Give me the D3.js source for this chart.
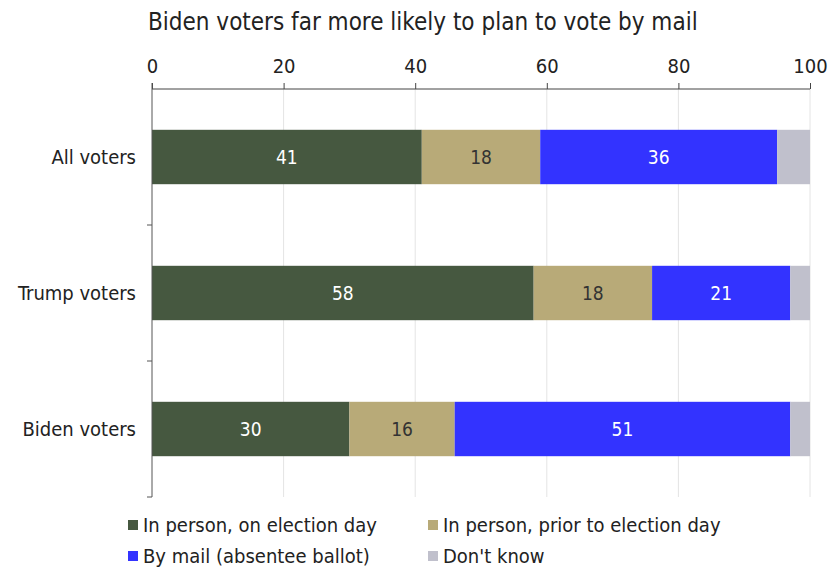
<!DOCTYPE html>
<html>
<head>
<meta charset="utf-8">
<script src="https://cdn.jsdelivr.net/npm/d3@7"></script>
<style>
  body { margin: 0; background: #fff; }
  svg text { font-family: "DejaVu Sans Condensed", "DejaVu Sans", sans-serif; }
</style>
</head>
<body>
<div id="chart"></div>
<script>
// data
const groups = ['All voters', 'Trump voters', 'Biden voters'];
const seriesNames = ['In person, on election day', 'In person, prior to election day', 'By mail (absentee ballot)', "Don't know"];
const electionDay = [41, 58, 30];
const priorDay = [18, 18, 16];
const byMail = [36, 21, 51];
const dontKnow = [5, 3, 3];
const xTicks = [0, 20, 40, 60, 80, 100];

const colors = ['#465840', '#b8aa78', '#3333ff', '#c0c0cc'];
const labelColors = ['#ffffff', '#333333', '#ffffff', null];

const width = 828, height = 569;
const margin = { top: 89, right: 18, bottom: 72, left: 152 };
const innerW = width - margin.left - margin.right;
const innerH = height - margin.top - margin.bottom;

const rows = groups.map((g, i) => ({
    group: g,
    values: [electionDay[i], priorDay[i], byMail[i], dontKnow[i]]
}));

const svg = d3.select('#chart').append('svg')
    .attr('width', width)
    .attr('height', height);

svg.append('text')
    .attr('x', 148)
    .attr('y', 30)
    .attr('fill', '#222')
    .style('font-size', '24px')
    .text('Biden voters far more likely to plan to vote by mail');

const viz = svg.append('g')
    .attr('transform', `translate(${margin.left},${margin.top})`);

const xScale = d3.scaleLinear().domain([0, 100]).range([0, innerW]);
const yScale = d3.scaleBand().domain(groups).range([0, innerH])
    .paddingInner(0.6).paddingOuter(0.3);

// gridlines
viz.append('g')
    .selectAll('line')
    .data(xTicks.slice(1))
    .join('line')
    .attr('x1', d => xScale(d)).attr('x2', d => xScale(d))
    .attr('y1', 0).attr('y2', innerH)
    .attr('stroke', '#e4e4e4')
    .attr('stroke-width', 1);

// bars
const stacked = rows.map(r => {
    let acc = 0;
    return r.values.map((v, k) => {
        const s = { group: r.group, k, v, x0: acc, x1: acc + v };
        acc += v;
        return s;
    });
}).flat();

viz.append('g')
    .selectAll('rect')
    .data(stacked)
    .join('rect')
    .attr('x', d => xScale(d.x0))
    .attr('y', d => yScale(d.group))
    .attr('width', d => xScale(d.x1) - xScale(d.x0))
    .attr('height', yScale.bandwidth())
    .attr('fill', d => colors[d.k]);

viz.append('g')
    .selectAll('text')
    .data(stacked.filter(d => labelColors[d.k]))
    .join('text')
    .attr('x', d => xScale((d.x0 + d.x1) / 2))
    .attr('y', d => yScale(d.group) + yScale.bandwidth() / 2)
    .attr('dy', '0.36em')
    .attr('text-anchor', 'middle')
    .attr('fill', d => labelColors[d.k])
    .style('font-size', '19px')
    .text(d => d.v);

// x axis on top
const xAxisG = viz.append('g')
    .call(d3.axisTop(xScale).tickValues(xTicks).tickSize(6).tickPadding(10));
xAxisG.select('.domain').attr('stroke', '#444').attr('d', `M0,0H${innerW}`);
xAxisG.selectAll('.tick line').attr('stroke', '#444');
xAxisG.selectAll('.tick text')
    .attr('fill', '#222')
    .style('font-size', '20px')
    .style('font-family', '"DejaVu Sans Condensed", "DejaVu Sans", sans-serif');

// y axis, ticks at band boundaries
const yAxisG = viz.append('g');
yAxisG.append('line')
    .attr('x1', 0).attr('x2', 0)
    .attr('y1', -6).attr('y2', innerH)
    .attr('stroke', '#555');
const bounds = groups.map(g => yScale(g) - yScale.step() * yScale.paddingOuter() + yScale.step());
yAxisG.selectAll('.ytick')
    .data(bounds)
    .join('line')
    .attr('class', 'ytick')
    .attr('x1', -5).attr('x2', 0)
    .attr('y1', d => d).attr('y2', d => d)
    .attr('stroke', '#555');
yAxisG.selectAll('.ylabel')
    .data(groups)
    .join('text')
    .attr('class', 'ylabel')
    .attr('x', -16)
    .attr('y', d => yScale(d) + yScale.bandwidth() / 2)
    .attr('dy', '0.36em')
    .attr('text-anchor', 'end')
    .attr('fill', '#222')
    .style('font-size', '20px')
    .text(d => d);

// legend
const legendPos = [[128, 525], [428, 525], [128, 556], [428, 556]];
const legend = svg.append('g')
    .selectAll('g')
    .data(seriesNames)
    .join('g')
    .attr('transform', (d, i) => `translate(${legendPos[i][0]},${legendPos[i][1]})`);
legend.append('rect')
    .attr('x', 0).attr('y', -5)
    .attr('width', 10).attr('height', 10)
    .attr('fill', (d, i) => colors[i]);
legend.append('text')
    .attr('x', 15)
    .attr('dy', '0.36em')
    .attr('fill', '#222')
    .style('font-size', '20px')
    .text(d => d);
</script>
</body>
</html>
